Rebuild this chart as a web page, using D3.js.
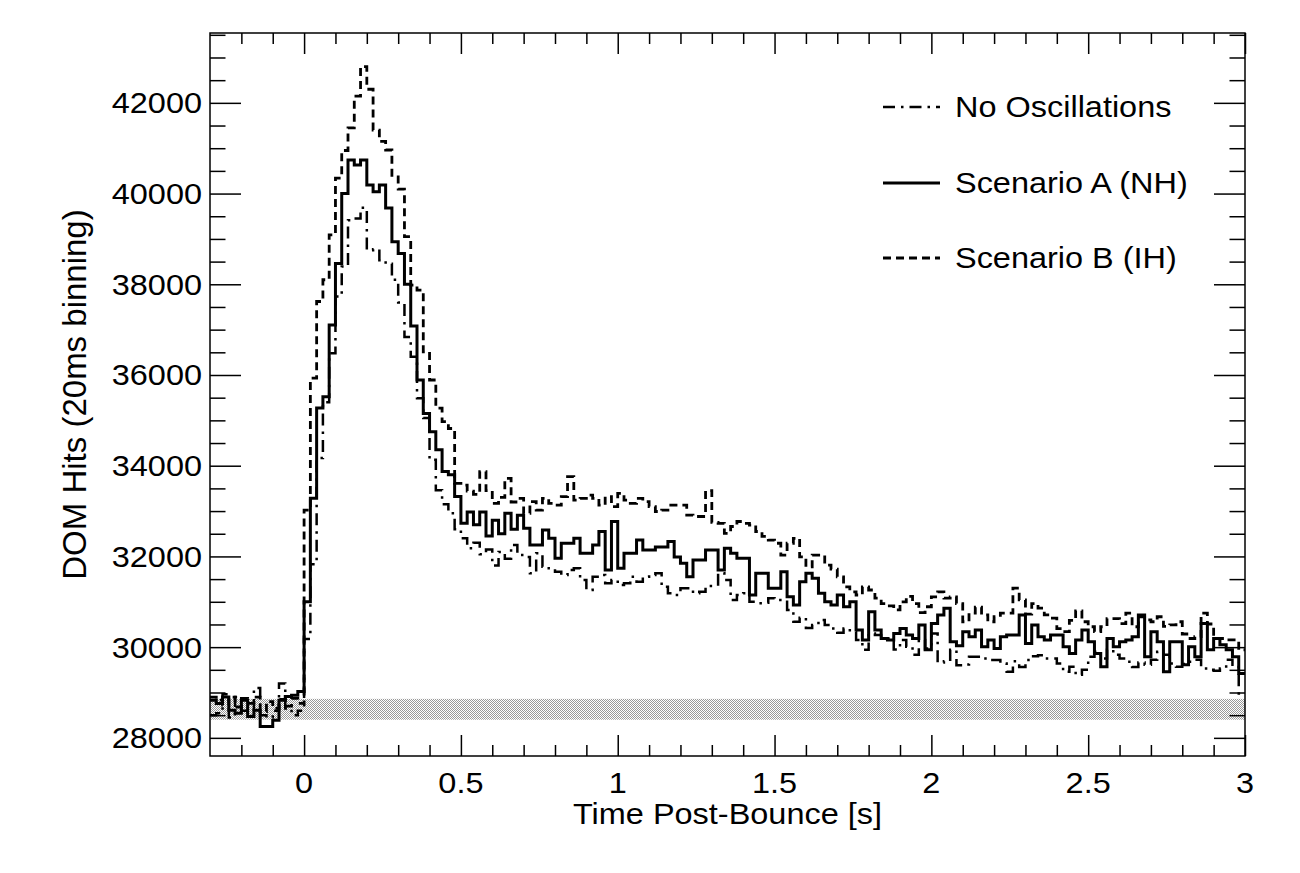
<!DOCTYPE html>
<html>
<head>
<meta charset="utf-8">
<script src="https://cdn.jsdelivr.net/npm/d3@7"></script>
<style>
  body { margin: 0; background: #fff; }
  text { font-family: "Liberation Sans", Arial, Helvetica, sans-serif; fill: #000; }
</style>
</head>
<body>
<script>
const WIDTH  = 1300;
const HEIGHT = 873;

// histogram contents, 20 ms bins starting at -0.3 s (165 bins up to 3 s)
const binStart = -0.3;
const binWidth = 0.02;

const noOscillations = [
  28500, 28540, 28960, 28450, 28900, 28600, 28480, 29100, 28500, 28450, 28600, 29200, 28650, 28500, 28600,
  30180, 31830, 34170, 35400, 36480, 37730, 38390, 39410, 39450, 39690, 38750, 38770, 38530, 38450, 38100,
  37600, 36840, 36400, 35490, 35050, 34130, 33460, 33150, 32950, 32600, 32400,
  32180, 32300, 32050, 32150, 31800, 32100, 31950, 32250,
  32030, 31990, 31630, 32070, 31770, 31740, 31660, 31590, 31700, 31740, 31480, 31260, 31550, 31590, 31410,
  31480, 31370, 31410, 31550, 31440, 31550, 31590, 31630, 31330, 31190,
  31150, 31300, 31300, 31190, 31220, 31350, 31350, 31630, 31480, 31040, 31150, 31190, 31000, 30970, 30980,
  31080, 31040, 31040, 30820, 30560, 30650, 30420,
  30490, 30600, 30490, 30410, 30320, 30410, 30340, 30160, 29940, 30300, 30270, 30190, 30190, 29950, 30160,
  30010, 29830, 30160, 29970, 30300, 29660, 29690,
  29940, 29600, 29620, 29790, 29790, 29750, 29715, 29715, 29640, 29460, 29690, 29560, 29715, 29800, 29820,
  29750, 29750, 29640, 29460, 29570, 29390, 29500,
  29790, 29900, 29750, 29940, 29830, 29750, 29680, 29560, 29660, 29610, 29720, 29900, 29830, 29640, 29570,
  29630, 29680, 29720, 29530, 29500, 29480, 29530, 29720, 29610, 28980
];

const scenarioA = [
  28830, 28760, 28900, 28610, 28540, 28830, 28470, 28610, 28250, 28250, 28390, 28830, 28910, 28940, 29020,
  31000, 33280, 35270, 35520, 37100, 38460, 40000, 40740, 40630, 40740, 40190, 40040, 40190, 39680, 38940,
  38680, 38000, 37080, 35890, 35150, 34750, 34350, 33870, 33800, 33320, 32730,
  32980, 32700, 32980, 32450, 32800, 32500, 32950, 32600, 32910, 32620,
  32250, 32250, 32580, 32400, 31960, 32290, 32290, 32400, 32070, 32070, 32250, 32550, 31700, 32770, 31740,
  32070, 32070, 32360, 32140, 32140, 32210, 32210, 32330,
  31990, 31850, 31550, 31920, 31920, 32140, 32140, 31700, 32180, 32070, 31960, 31960, 31150, 31630, 31630,
  31300, 31300, 31660, 31110, 30930, 31440, 31630,
  31520, 31190, 31000, 30930, 31150, 30890, 31000, 30380, 30160, 30780, 30380, 30190, 30160, 30300, 30410,
  30270, 30190, 30490, 29940, 30520, 30710, 30860, 30120,
  30030, 30340, 30230, 30380, 30010, 30160, 29970, 30230, 30270, 30270, 30710, 30080, 30490, 30230, 30160,
  30270, 30270, 30010, 29860, 30160, 30380,
  30120, 29860, 29570, 30190, 30010, 30120, 30160, 30230, 30710, 29790, 30340, 30120, 29460, 30120, 30120,
  29610, 30010, 29790, 30520, 29940, 30190, 30050, 29940, 29790, 29420
];

const scenarioB = [
  28900, 28830, 28720, 28900, 28680, 28870, 28760, 28900, 28580, 28800, 28650, 28850, 28700, 28870, 28760,
  33020, 35930, 37620, 38100, 39090, 40340, 40950, 41450, 42150, 42800, 42300, 41400, 41150, 40960, 40370,
  40100, 39050, 37980, 37870, 36510, 35890, 35270, 34970, 34820, 33610, 33570,
  33440, 33370, 33870, 33450, 33170, 33300, 33720, 33200,
  33280, 32950, 33210, 33020, 33280, 33170, 33130, 33320, 33760, 33240, 33280, 33350, 33280, 33130, 33320,
  33100, 33390, 33240, 33170, 33280, 33210, 33100, 32990, 33020, 33130,
  33130, 33130, 32910, 32880, 32880, 33450, 32750, 32730, 32510, 32660, 32770, 32730, 32690, 32550, 32440,
  32360, 32290, 32030, 32290, 32400, 31990, 31770,
  32030, 32030, 31810, 31720, 31550, 31330, 31220, 31150, 31330, 31260, 31080, 30960, 30910, 30820, 31000,
  31120, 30960, 30760, 30890, 31110, 31220, 31080,
  31110, 30960, 30560, 30750, 30880, 30710, 30560, 30670, 30750, 30750, 31300, 31040, 30730, 30960, 30860,
  30710, 30640, 30410, 30340, 30590, 30800, 30560,
  30450, 30340, 30450, 30630, 30630, 30520, 30750, 30450, 30670, 30600, 30560, 30670, 30460, 30490, 30560,
  30290, 30190, 30230, 30750, 30510, 30190, 30190, 30160, 30160, 29940
];

// background band (pre-bounce level)
const bandLimits = [28400, 28860];

const xTickValues = [0, 0.5, 1, 1.5, 2, 2.5, 3];
const xTickLabels = ['0', '0.5', '1', '1.5', '2', '2.5', '3'];
const yTickValues = [28000, 30000, 32000, 34000, 36000, 38000, 40000, 42000];
const yTickLabels = ['28000', '30000', '32000', '34000', '36000', '38000', '40000', '42000'];
const legendLabels = ['No Oscillations', 'Scenario A (NH)', 'Scenario B (IH)'];

const frame = { left: 210, right: 1245, top: 33, bottom: 756 };

let svg = d3.select('body').append('svg')
  .attr('width', WIDTH)
  .attr('height', HEIGHT);

let x = d3.scaleLinear().domain([-0.3, 3]).range([frame.left, frame.right]);
let y = d3.scaleLinear().domain([27600, 43540]).range([frame.bottom, frame.top]);

let defs = svg.append('defs');
defs.append('clipPath').attr('id', 'plotclip')
  .append('rect')
  .attr('x', frame.left).attr('y', frame.top)
  .attr('width', frame.right - frame.left).attr('height', frame.bottom - frame.top);

// fine checker fill like the ROOT hatch
let pat = defs.append('pattern').attr('id', 'dots')
  .attr('width', 2).attr('height', 2).attr('patternUnits', 'userSpaceOnUse');
pat.append('rect').attr('width', 2).attr('height', 2).attr('fill', '#fff');
pat.append('rect').attr('x', 0).attr('y', 0).attr('width', 1).attr('height', 1).attr('fill', '#999');
pat.append('rect').attr('x', 1).attr('y', 1).attr('width', 1).attr('height', 1).attr('fill', '#999');

let plot = svg.append('g').attr('clip-path', 'url(#plotclip)');

plot.append('rect')
  .attr('x', x(-0.3))
  .attr('y', y(bandLimits[1]))
  .attr('width', x(3) - x(-0.3))
  .attr('height', y(bandLimits[0]) - y(bandLimits[1]))
  .attr('fill', 'url(#dots)');

const series = [
  { values: noOscillations, dash: '12,6,2.5,6', width: 2.5 },
  { values: scenarioA,      dash: null,         width: 3 },
  { values: scenarioB,      dash: '8,5',        width: 2.8 }
];

let stepLine = d3.line()
  .x(d => x(d[0]))
  .y(d => y(d[1]))
  .curve(d3.curveStepAfter);

series.forEach(s => {
  let pts = s.values.map((v, i) => [binStart + i * binWidth, v]);
  pts.push([binStart + s.values.length * binWidth, s.values[s.values.length - 1]]);
  plot.append('path')
    .attr('d', stepLine(pts))
    .attr('fill', 'none')
    .attr('stroke', '#000')
    .attr('stroke-width', s.width)
    .attr('stroke-dasharray', s.dash);
});

// ticks on all four sides, pointing inwards
let xMinor = d3.range(-2, 30).map(k => k / 10).filter(v => Math.abs(v * 2 - Math.round(v * 2)) > 1e-6);
let yMinor = d3.range(28500, 43600, 500).filter(v => v % 2000 !== 0);

function tickAxis(axis, values, size, tr) {
  let g = svg.append('g')
    .attr('transform', tr)
    .call(axis.tickValues(values).tickSize(-size).tickFormat(''));
  g.select('.domain').remove();
  g.selectAll('line').attr('stroke', '#000').attr('stroke-width', 1.5);
}

tickAxis(d3.axisBottom(x), xTickValues, 21, `translate(0,${frame.bottom})`);
tickAxis(d3.axisBottom(x), xMinor, 11, `translate(0,${frame.bottom})`);
tickAxis(d3.axisTop(x), xTickValues, 21, `translate(0,${frame.top})`);
tickAxis(d3.axisTop(x), xMinor, 11, `translate(0,${frame.top})`);
tickAxis(d3.axisLeft(y), yTickValues, 31, `translate(${frame.left},0)`);
tickAxis(d3.axisLeft(y), yMinor, 15.5, `translate(${frame.left},0)`);
tickAxis(d3.axisRight(y), yTickValues, 31, `translate(${frame.right},0)`);
tickAxis(d3.axisRight(y), yMinor, 15.5, `translate(${frame.right},0)`);

svg.append('rect')
  .attr('x', frame.left).attr('y', frame.top)
  .attr('width', frame.right - frame.left).attr('height', frame.bottom - frame.top)
  .attr('fill', 'none').attr('stroke', '#000').attr('stroke-width', 1.5);

// labels (ROOT Helvetica looks a bit wide, hence the x stretch)
function wideText(str, tx, ty, anchor, size) {
  return svg.append('text')
    .attr('transform', `translate(${tx},${ty}) scale(1.12,1)`)
    .attr('text-anchor', anchor)
    .style('font-size', size + 'px')
    .text(str);
}

yTickValues.forEach((v, i) => wideText(yTickLabels[i], 202, y(v) + 10.5, 'end', 29));
xTickValues.forEach((v, i) => wideText(xTickLabels[i], x(v), 793, 'middle', 29));

wideText('Time Post-Bounce [s]', (frame.left + frame.right) / 2, 824, 'middle', 29);

svg.append('text')
  .attr('transform', `translate(86,${(frame.top + frame.bottom) / 2}) rotate(-90)`)
  .attr('text-anchor', 'middle')
  .style('font-size', '33px')
  .text('DOM Hits (20ms binning)');

// legend
const legendY = [107, 183, 258];
series.forEach((s, i) => {
  svg.append('line')
    .attr('x1', 883).attr('x2', 940)
    .attr('y1', legendY[i]).attr('y2', legendY[i])
    .attr('stroke', '#000')
    .attr('stroke-width', s.width)
    .attr('stroke-dasharray', s.dash);
  wideText(legendLabels[i], 955, legendY[i] + 9.5, 'start', 29);
});
</script>
</body>
</html>
